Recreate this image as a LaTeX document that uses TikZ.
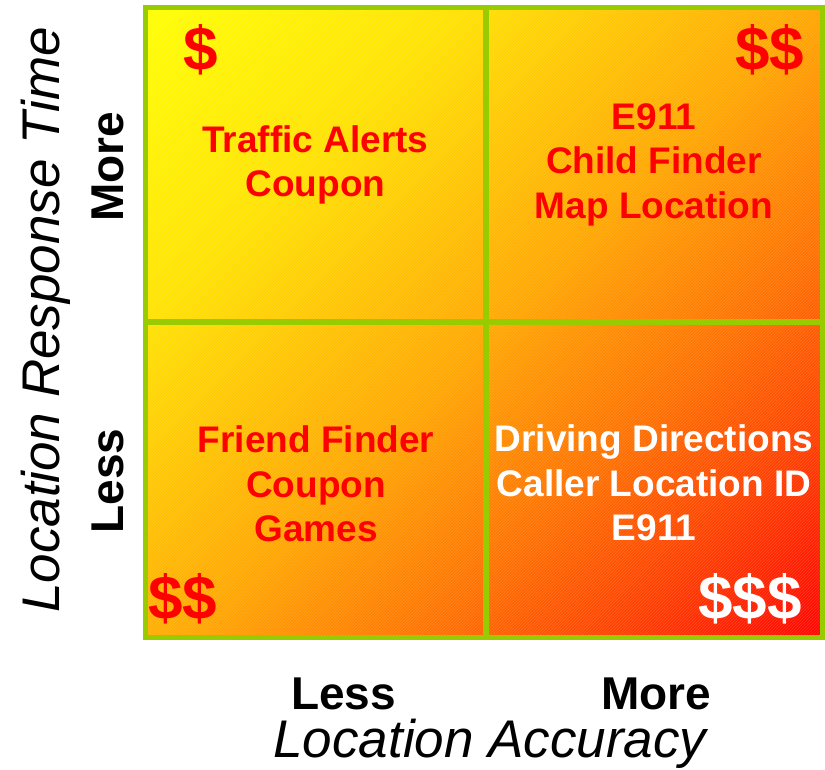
\documentclass[tikz,border=0pt]{standalone}
\usepackage{fontspec}
\usetikzlibrary{patterns}
\setmainfont{Liberation Sans}
\definecolor{grn}{HTML}{99CC00}
\definecolor{sA}{HTML}{FF0500}
\definecolor{sB}{HTML}{FF3C00}
\definecolor{sC}{HTML}{FF7000}
\definecolor{sD}{HTML}{FFAA00}
\definecolor{sE}{HTML}{FFE200}
\definecolor{sF}{HTML}{FFFF00}
\pgfdeclareverticalshading{quadshade}{100bp}{color(0bp)=(sA); color(14.6bp)=(sA); color(25.2bp)=(sB); color(35.8bp)=(sC); color(50bp)=(sD); color(68.4bp)=(sE); color(85.4bp)=(sF); color(100bp)=(sF)}
\tikzset{
  cell/.style={font=\fontsize{37}{44.5}\selectfont\bfseries, text=red, align=center, inner sep=0pt},
  dollar/.style={font=\fontsize{62}{62}\selectfont\bfseries, text=red, inner sep=0pt},
  axlab/.style={font=\fontsize{46}{50}\selectfont\bfseries, text=black, inner sep=0pt},
  axtitle/.style={font=\fontsize{53}{60}\selectfont\itshape, text=black, inner sep=0pt},
  gridline/.style={draw=grn, line width=6pt},
  frameline/.style={draw=grn, line width=5pt}
}
\begin{document}
\begin{tikzpicture}[x=1pt,y=-1pt]
\useasboundingbox (0,0) rectangle (825,770);
% frame corners and grid
\coordinate (tl) at (145,7.5);
\coordinate (br) at (822.5,637);
\coordinate (vt) at (485.7,7.5);
\coordinate (vb) at (485.7,637);
\coordinate (hl) at (145,322.3);
\coordinate (hr) at (822.5,322.3);
\shade[shading=quadshade, shading angle=45] (tl) rectangle (br);
\fill[pattern=north east lines, pattern color=white, opacity=0.15] (tl) rectangle (br);
\draw[gridline] (vt) -- (vb);
\draw[gridline] (hl) -- (hr);
\draw[frameline] (tl) rectangle (br);
% quadrant texts
\node[cell] (q1) at (315.5,165) {Traffic Alerts\\Coupon};
\node[cell] (q2) at (654,164.5) {E911\\Child Finder\\Map Location};
\node[cell] (q3) at (316,484) {Friend Finder\\Coupon\\Games};
\node[cell, text=white] (q4) at (654,483) {Driving Directions\\Caller Location ID\\E911};
% price marks
\node[dollar] (d1) at (201,49.5) {\$};
\node[dollar] (d2) at (770,49.5) {\$\$};
\node[dollar] (d3) at (183,599) {\$\$};
\node[dollar, text=white] (d4) at (750,599) {\$\$\$};
% axis labels
\node[axlab, rotate=90] (ymore) at (108,167) {More};
\node[axlab, rotate=90] (yless) at (108,481) {Less};
\node[axtitle, rotate=90] (ytitle) at (46,320) {Location Response Time};
\node[axlab] (xless) at (343.5,694) {Less};
\node[axlab] (xmore) at (656,694) {More};
\node[axtitle] (xtitle) at (490,744) {Location Accuracy};
\end{tikzpicture}
\end{document}
